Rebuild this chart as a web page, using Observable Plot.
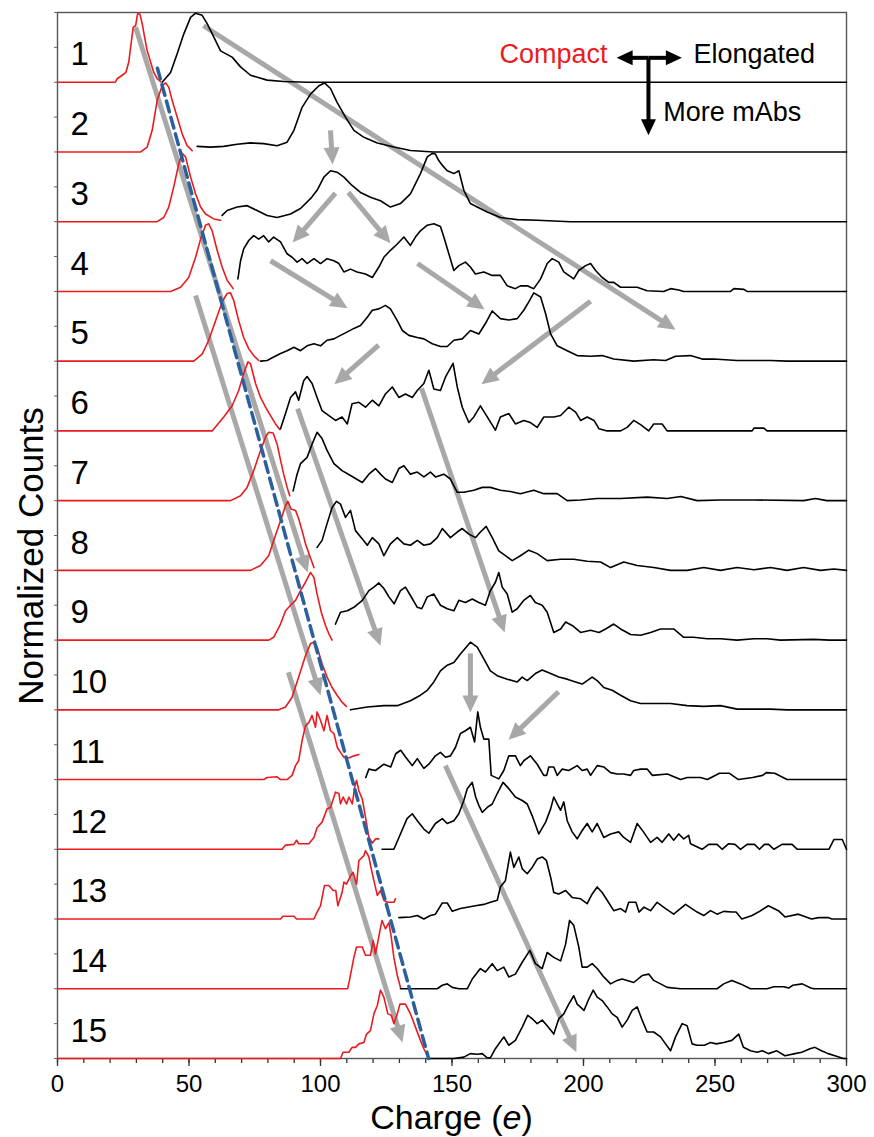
<!DOCTYPE html>
<html>
<head>
<meta charset="utf-8">
<script src="https://cdn.jsdelivr.net/npm/d3@7"></script>
<script src="https://cdn.jsdelivr.net/npm/@observablehq/plot@0.6"></script>
<style>
  html, body { margin: 0; padding: 0; background: #fff; }
  #chart svg { display: block; }
</style>
</head>
<body>
<div id="chart"></div>
<script>
// ---------- data: [charge, normalized height] per row ----------
const rowLabels = d3.range(1, 16);

const red1 = [[0,0],[22,0],[22.7,0.05],[24.6,0.1],[26,0.14],[27.1,0.29],[27.8,0.5],[28.8,0.79],[29.7,0.81],[30.5,0.99],[31.3,0.98],[32.2,0.84],[33.1,0.65],[34.1,0.45],[35.4,0.29],[36.6,0.14],[37.9,0.05],[39.2,0.01]];
const black1 = [[39.8,0],[43,0.14],[45.5,0.41],[48,0.69],[50.6,0.93],[52.5,0.99],[55,0.96],[56.9,0.84],[59.4,0.65],[62,0.45],[63.9,0.41],[66.4,0.36],[69.6,0.22],[73.4,0.1],[79.7,0.03],[86,0.01],[95,0],[300,0]];

const red2 = [[0,0],[31.6,0],[34.1,0.07],[36,0.31],[37.9,0.74],[39.8,0.95],[41.1,0.99],[42.3,0.93],[43.6,0.74],[45.5,0.5],[47.4,0.26],[49.3,0.09],[51.2,0.02]];
const black2 = [[53.1,0.08],[58.2,0.07],[63.2,0.08],[68.3,0.11],[73.4,0.13],[78.4,0.12],[83.5,0.09],[87.3,0.14],[89.9,0.31],[93,0.64],[96.2,0.83],[99.4,0.95],[101.5,0.99],[103.8,0.91],[106.3,0.71],[109.5,0.5],[112.7,0.31],[116.5,0.21],[121.6,0.13],[127.9,0.07],[134.2,0.02],[143,0],[300,0]];

const red3 = [[0,0],[37.9,0],[40.4,0.06],[42.3,0.21],[44.2,0.5],[46.1,0.83],[47.4,0.98],[48.7,0.93],[50.6,0.64],[52.5,0.4],[54.4,0.21],[56.3,0.11],[59.4,0.04],[62,0.02]];
const black3 = [[62.6,0.09],[64.5,0.16],[68.3,0.21],[72.1,0.23],[75.9,0.16],[79.7,0.09],[83.5,0.06],[88.6,0.11],[92.4,0.19],[96.2,0.33],[98.7,0.45],[101.3,0.64],[103.8,0.73],[106.3,0.71],[108.9,0.64],[112,0.52],[115.2,0.42],[119,0.35],[122.8,0.3],[126.6,0.21],[130.4,0.26],[134.2,0.4],[138,0.69],[140.6,0.93],[142.5,0.98],[143.7,0.97],[144.9,0.88],[146.5,0.8],[148.2,0.73],[150.7,0.69],[152.6,0.73],[154.5,0.45],[157,0.26],[159.6,0.21],[163.4,0.14],[168.4,0.06],[174.8,0.03],[182.4,0.02],[195,0],[300,0]];

const red4 = [[0,0],[43,0],[46.8,0.06],[49.9,0.2],[52.5,0.49],[54.4,0.75],[56.3,0.95],[57.5,0.97],[58.8,0.87],[60.7,0.59],[62.6,0.35],[64.5,0.16],[66.8,0.04]];
const black4 = [[68.6,0.18],[69.6,0.44],[70.8,0.61],[72.7,0.73],[74.6,0.8],[76.5,0.75],[78.4,0.8],[80.3,0.71],[82.2,0.78],[84.8,0.71],[87.3,0.54],[89.2,0.49],[91.1,0.42],[93,0.47],[94.9,0.4],[97.5,0.47],[100,0.4],[102.5,0.47],[105.1,0.44],[107,0.4],[108.9,0.28],[111.4,0.32],[113.9,0.28],[117.1,0.25],[119.7,0.2],[122.2,0.35],[124.1,0.49],[126.6,0.59],[129.2,0.68],[131.7,0.78],[134.2,0.66],[136.1,0.78],[138,0.87],[140.6,0.95],[143.1,0.97],[145.6,0.93],[146.9,0.78],[148.8,0.54],[150.7,0.3],[152.6,0.37],[155.1,0.42],[157,0.35],[158.9,0.25],[162.1,0.28],[165.3,0.23],[168.4,0.23],[171,0.08],[174.1,0.04],[176,0.08],[178.6,0.08],[181.1,0.04],[183.7,0.18],[186.2,0.4],[188.1,0.47],[190.6,0.42],[192.5,0.28],[194.4,0.23],[196.3,0.18],[198.2,0.3],[200.8,0.37],[202.7,0.4],[204.6,0.3],[207.1,0.2],[209.6,0.13],[211.5,0.13],[214.1,0.06],[220.4,0.06],[224.2,0.01],[230.5,0],[233.1,0.04],[236.2,0.02],[238.1,0],[255.9,0],[257.2,0.04],[261,0.03],[262.2,0],[300,0]];

const red5 = [[0,0],[51.8,0],[55,0.1],[57.5,0.3],[60.1,0.58],[62.6,0.85],[64.5,0.97],[65.8,0.98],[67,0.87],[68.9,0.58],[70.8,0.34],[72.7,0.18],[74.6,0.08],[76.5,0.01]];
const black5 = [[77.2,0],[79.7,0.01],[82.2,0.06],[84.8,0.11],[87.3,0.15],[89.9,0.2],[92.4,0.15],[94.9,0.22],[97.5,0.25],[100,0.22],[102.5,0.3],[105.1,0.32],[107.6,0.37],[110.2,0.42],[112.7,0.47],[115.2,0.51],[117.8,0.63],[119.7,0.73],[122.2,0.75],[124.7,0.8],[126.6,0.75],[129.2,0.58],[131.1,0.44],[133.6,0.37],[136.8,0.34],[139.3,0.32],[142.5,0.25],[145.6,0.21],[148.2,0.21],[150.7,0.3],[153.9,0.32],[157,0.44],[160.2,0.39],[162.7,0.54],[165.3,0.72],[168.4,0.61],[171.6,0.59],[174.8,0.61],[177.3,0.73],[179.2,0.85],[181.1,0.98],[183.7,0.92],[185.6,0.68],[187.5,0.39],[190,0.22],[193.8,0.15],[197.6,0.08],[202.7,0.07],[207.1,0.08],[211.5,0.03],[219.1,0],[226.7,0.02],[231.2,0.01],[235,0.07],[240.7,0.08],[245.1,0.03],[249.5,0.03],[258.4,0.01],[271.1,0.01],[277.4,0],[300,0]];

const red6 = [[0,0],[58.8,0],[63.2,0.2],[66.4,0.36],[68.9,0.58],[70.8,0.82],[72.4,0.99],[73.4,0.96],[75.3,0.68],[77.2,0.48],[79.1,0.34],[81,0.22],[82.9,0.1],[84.5,0.02]];
const black6 = [[84.8,0.03],[86.7,0.25],[88.6,0.48],[90.5,0.56],[91.7,0.44],[93.6,0.72],[94.9,0.78],[96.8,0.68],[98.7,0.48],[100.6,0.29],[103.2,0.22],[105.7,0.15],[108.2,0.2],[110.2,0.1],[112,0.39],[114.6,0.41],[117.1,0.34],[119.7,0.44],[122.2,0.36],[124.7,0.53],[127.3,0.63],[129.8,0.48],[132.3,0.53],[134.9,0.48],[136.8,0.58],[139.3,0.68],[141.2,0.87],[143.1,0.6],[145.6,0.58],[147.5,0.77],[150.4,0.97],[152,0.63],[153.9,0.34],[156.4,0.12],[158.3,0.2],[160.8,0.36],[163.4,0.2],[166.5,0.01],[168.4,0.2],[171.6,0.25],[174.1,0.1],[177.3,0.15],[179.8,0.12],[182.4,0.05],[184.9,0.2],[188.7,0.2],[191.3,0.22],[194.4,0.34],[197,0.27],[198.9,0.15],[201.4,0.2],[204,0.15],[205.9,0.03],[209,0],[214.1,0],[216.6,0.05],[219.1,0.15],[221.7,0.09],[224.8,0],[226.7,0.1],[229.9,0.1],[231.8,0],[264.1,0],[264.8,0.04],[268.6,0.04],[269.8,0],[300,0]];

const red7 = [[0,0],[65.8,0],[69.6,0.07],[72.1,0.19],[74.6,0.43],[77.2,0.72],[79.1,0.91],[80.3,0.98],[82,0.97],[83.5,0.81],[84.8,0.58],[86,0.38],[87.3,0.19],[88.3,0.07]];
const black7 = [[89.6,0.14],[91.1,0.38],[92.4,0.53],[94.9,0.62],[96.8,0.81],[98.7,0.98],[100.6,0.89],[102.5,0.72],[105.1,0.53],[108.2,0.43],[111.4,0.36],[115.9,0.26],[118.4,0.38],[120.9,0.46],[122.8,0.38],[124.7,0.31],[127.3,0.26],[129.8,0.46],[131.7,0.5],[134.2,0.38],[136.8,0.41],[139.3,0.34],[141.8,0.41],[143.7,0.34],[146.9,0.38],[149.4,0.31],[152,0.12],[154.5,0.12],[158.3,0.15],[161.5,0.19],[164.6,0.19],[168.4,0.15],[172.2,0.13],[176,0.1],[181.1,0.15],[184.9,0.1],[190,0.1],[193.8,0],[198.9,0.01],[205.2,0.03],[214.1,0.03],[224.2,0.05],[231.8,0.03],[237,0.06],[243.2,0],[252.1,0.01],[264.8,0.01],[283.7,0],[288.2,0.03],[292.5,0],[300,0]];

const red8 = [[0,0],[73.4,0],[77.2,0.07],[80.3,0.21],[82.2,0.43],[84.8,0.71],[86.7,0.93],[87.6,0.99],[88.8,0.88],[90.5,0.86],[91.7,0.74],[93,0.57],[94.3,0.38],[95.9,0.21],[97.5,0.04]];
const black8 = [[98.7,0.33],[100.6,0.43],[102.5,0.67],[104.4,0.9],[106.1,0.99],[107.6,0.95],[109.5,0.76],[111.4,0.86],[113.3,0.57],[115.9,0.45],[117.8,0.36],[119.7,0.47],[122.2,0.38],[124.1,0.21],[126.6,0.38],[129.2,0.47],[131.7,0.38],[134.2,0.36],[136.8,0.43],[139.3,0.36],[141.8,0.38],[144.4,0.47],[146.3,0.6],[149.4,0.47],[152,0.55],[153.9,0.6],[156.4,0.52],[159,0.47],[160.8,0.55],[163,0.63],[165.3,0.47],[167.8,0.28],[170.3,0.21],[172.9,0.14],[176,0.21],[179.2,0.29],[182.4,0.24],[186.2,0.14],[191.3,0.16],[196.3,0.16],[201.4,0.13],[206.5,0.12],[210.3,0.04],[215.3,0.12],[220.4,0.07],[226.7,0.04],[233.1,0],[239.4,0],[245.7,0.04],[252.1,0],[258.4,0.04],[264.8,0.01],[271.1,0.04],[277.4,0],[283.7,0.04],[290.1,0],[295.2,0.02],[300,0]];

const red9 = [[0,0],[80.3,0],[82.2,0.04],[84.8,0.23],[86.7,0.42],[88.6,0.5],[90.5,0.57],[92.4,0.71],[94.3,0.83],[96.2,0.97],[97.5,0.9],[98.7,0.66],[100.3,0.4],[101.9,0.21],[103.2,0.09],[104.4,0]];
const black9 = [[105.7,0.23],[107.6,0.4],[110.2,0.42],[112.7,0.47],[115.9,0.57],[118.4,0.71],[120.3,0.76],[122.2,0.82],[124.1,0.74],[126,0.62],[128,0.52],[130.4,0.71],[132.3,0.76],[134.2,0.64],[136.8,0.47],[138.5,0.45],[140.6,0.62],[143.1,0.66],[145.6,0.5],[148.2,0.45],[150.7,0.42],[152.6,0.57],[155.1,0.54],[157.7,0.59],[160.2,0.54],[162.7,0.5],[164.6,0.71],[166.5,0.83],[167.8,0.97],[169.1,0.76],[171,0.66],[172.9,0.4],[174.8,0.45],[177.3,0.57],[179.8,0.64],[181.7,0.54],[184.3,0.5],[186.2,0.4],[188.7,0.11],[191.3,0.16],[193.2,0.26],[195.7,0.21],[198.9,0.11],[202.7,0.14],[205.9,0.11],[208.4,0.16],[211.5,0.23],[214.1,0.16],[217.9,0.08],[221.7,0.07],[225.5,0.11],[229.3,0.16],[234.3,0.16],[238.1,0.04],[241.9,0.04],[247,0.02],[252.1,0.02],[258.4,0],[264.8,0.02],[269.8,0.02],[274.9,0],[287.6,0.01],[293.5,0],[300,0]];

const red10 = [[0,0],[84.1,0],[86.7,0.04],[89.2,0.18],[91.7,0.47],[94.3,0.78],[96.2,0.95],[97.5,0.97],[98.7,0.9],[100.6,0.66],[102.5,0.47],[104.4,0.32],[106.3,0.21],[108.2,0.11],[109.8,0.05]];
const black10 = [[111.4,0],[117.8,0.04],[124.1,0.06],[129.2,0.06],[134.2,0.13],[138,0.21],[140.6,0.28],[143.1,0.4],[145.6,0.56],[148.2,0.64],[150.7,0.68],[153.2,0.8],[157,0.97],[159.6,0.9],[162.1,0.73],[164.6,0.56],[167.2,0.49],[171,0.44],[174.8,0.4],[176.7,0.47],[178.6,0.42],[181.7,0.52],[184.3,0.57],[187.5,0.52],[190.6,0.47],[193.8,0.44],[197,0.4],[199.5,0.37],[201.4,0.42],[203.3,0.47],[205.2,0.42],[207.7,0.32],[210.9,0.28],[214.1,0.21],[217.9,0.13],[221.7,0.09],[226.7,0.09],[233.1,0.09],[239.4,0.06],[245.7,0.05],[252.1,0.06],[258.4,0.01],[264.8,0.01],[271.1,0.01],[277.4,0],[300,0]];

const red11 = [[0,0],[78.4,0],[79.7,0.03],[83.5,0.04],[84.8,0],[87.3,0],[89.2,0.06],[90.5,0.2],[91.7,0.27],[93,0.56],[94.3,0.77],[95.6,0.82],[96.8,0.92],[98.1,0.75],[98.7,0.97],[100,0.85],[101.3,0.7],[102.5,0.92],[103.8,0.7],[105.1,0.66],[106.4,0.46],[107.6,0.39],[108.9,0.32],[110.8,0.31],[112.7,0.34],[114.6,0.36]];
const black11 = [[117.2,0.03],[118.4,0.15],[120.9,0.13],[124.1,0.22],[126.7,0.18],[128.6,0.37],[130.5,0.42],[132.4,0.32],[134.9,0.2],[136.8,0.3],[139.3,0.16],[141.2,0.22],[143.7,0.34],[145.6,0.39],[147.5,0.32],[149.4,0.34],[151.3,0.46],[153.2,0.66],[155.1,0.7],[157,0.75],[158.6,0.54],[159.8,0.97],[160.8,0.75],[162.1,0.58],[164,0.58],[164.9,0.06],[167.8,0.01],[169.7,0.13],[171.6,0.34],[174.1,0.34],[176,0.2],[177.3,0.27],[179.8,0.34],[182.4,0.22],[184.9,0.06],[186,0.06],[186.8,0.18],[188.7,0.18],[190,0.06],[191.9,0.15],[194.4,0.13],[197.6,0.2],[199.5,0.13],[201.4,0.15],[202.7,0.06],[205.2,0.2],[207.8,0.18],[210.3,0.1],[212.8,0.08],[215.3,0.08],[217.9,0.06],[219.1,0.13],[221.7,0.15],[224.2,0.15],[226.2,0.06],[231.9,0.08],[236.9,0],[239.5,0.03],[244.5,0.03],[247.1,0],[251.7,0.09],[255.5,0.09],[258.9,0],[264.3,0.03],[268.1,0.06],[269.5,0.1],[272.7,0.09],[277.4,0],[300,0]];

const red12 = [[0,0],[85.4,0],[86.7,0.06],[89.9,0.07],[90.9,0.13],[91.7,0.08],[95.6,0.08],[97.5,0.17],[98.7,0.31],[100.6,0.39],[102.5,0.58],[103.8,0.6],[105.1,0.75],[105.7,0.82],[107,0.8],[107.6,0.65],[108.6,0.75],[109.9,0.65],[110.8,0.75],[112.1,0.65],[113,0.89],[113.7,0.99],[114.6,0.84],[115.9,0.72],[117.1,0.46],[118.4,0.17],[119.7,0.09],[121,0.15],[122.2,0.15]];
const black12 = [[123.4,0],[127.9,0],[130.4,0.22],[132.9,0.44],[134.9,0.51],[136.8,0.41],[139.3,0.29],[141.2,0.23],[143.7,0.37],[146.3,0.44],[148.2,0.37],[150.7,0.41],[152.6,0.51],[154.5,0.7],[155.8,0.87],[157.7,0.96],[159,0.75],[160.2,0.63],[161.5,0.53],[163.4,0.6],[165.3,0.65],[167.2,0.8],[169.4,0.96],[171.6,0.87],[174.1,0.75],[176.7,0.7],[178.6,0.65],[180.5,0.48],[183,0.22],[185.6,0.39],[187.5,0.58],[188.7,0.75],[190,0.65],[191.3,0.56],[192.5,0.68],[193.8,0.41],[195.7,0.25],[197.6,0.15],[199.5,0.27],[201.4,0.37],[203.3,0.25],[205.2,0.37],[207.7,0.17],[210.3,0.22],[213.4,0.25],[215.3,0.17],[217.9,0.1],[220.4,0.37],[222.8,0.25],[225.5,0.1],[228,0.17],[229.9,0.1],[232.4,0.22],[234.3,0.13],[236.2,0.22],[238.1,0.15],[240,0.2],[240.7,0.08],[245.1,0],[247.6,0.07],[250.8,0.07],[252.7,0],[255.2,0.08],[257.6,0.07],[259.7,0],[262.2,0.07],[265,0.07],[266.9,0],[268.8,0.07],[270.4,0.07],[272.4,0],[275.5,0.07],[279.3,0.07],[281.3,0],[293.3,0],[295.2,0.14],[298.4,0.14],[300,0]];

const red13 = [[0,0],[84.8,0],[85.7,0.04],[89.9,0.04],[90.9,0],[97.5,0],[98.7,0.1],[100,0.19],[101.5,0.48],[103.2,0.48],[104.8,0.41],[105.8,0.41],[106.6,0.19],[108.2,0.38],[108.9,0.53],[109.9,0.5],[111.4,0.62],[112.4,0.67],[113.7,0.5],[114.6,0.84],[116.5,0.91],[117.1,0.98],[118.4,0.89],[119.3,0.72],[120.3,0.55],[121.6,0.34],[122.8,0.41],[124.1,0.27],[125.4,0.24],[127.9,0.24],[128.5,0.29]];
const black13 = [[129.8,0.02],[134.2,0.03],[136.8,0.05],[139.3,0],[141.8,0.05],[143.7,0.07],[146.3,0.23],[148.2,0.23],[150.1,0.11],[153.2,0.15],[155.8,0.17],[158.9,0.19],[162.1,0.21],[164.6,0.24],[167.2,0.27],[168.4,0.46],[170.3,0.55],[172.2,0.96],[173.5,0.74],[175.4,0.89],[176.7,0.72],[178.6,0.65],[180.5,0.74],[182.4,0.86],[184.3,0.89],[185.9,0.84],[187.5,0.6],[188.7,0.38],[190.6,0.36],[193.2,0.41],[195.7,0.31],[198.9,0.29],[201.4,0.22],[203.3,0.36],[205.2,0.46],[207.1,0.38],[209,0.27],[211.5,0.12],[214.1,0.15],[216,0.1],[217.2,0.24],[219.9,0.24],[221.1,0.1],[223,0.17],[225.5,0.12],[228,0.24],[231.2,0.15],[234.3,0.07],[238.8,0.21],[243.2,0.1],[245.7,0.05],[248.3,0.12],[250.8,0.07],[253.3,0.11],[256.4,0.1],[258,0.1],[260.2,0],[264.1,0.05],[266.5,0.1],[270.3,0.19],[274.1,0.12],[276.6,0.03],[281.7,0.07],[286.7,0],[289.4,0.02],[293.2,0.02],[294.4,0],[300,0]];

const red14 = [[0,0],[110.3,0],[111,0.12],[112.7,0.45],[113.7,0.6],[115.9,0.6],[117.1,0.48],[119,0.48],[120,0.69],[120.9,0.5],[122.6,0.83],[123.4,0.98],[124.7,0.86],[126,0.95],[126.9,0.74],[127.9,0.45],[129.2,0.19],[130.4,0.02]];
const black14 = [[130.4,0],[144.4,0],[146.3,0.05],[148.2,0.07],[150.1,0.02],[152.6,0],[155.8,0],[157.7,0.14],[160.8,0.29],[162.7,0.24],[165.3,0.36],[167.2,0.26],[169.7,0.31],[171.6,0.17],[174.1,0.21],[176.7,0.38],[179.6,0.55],[181.7,0.36],[184.3,0.29],[186.2,0.52],[188.7,0.45],[191.3,0.4],[193.2,0.64],[194.7,0.98],[196.3,0.91],[198.2,0.6],[199.5,0.31],[201.4,0.31],[203.3,0.36],[205.2,0.29],[207.7,0.17],[210.3,0.07],[212.8,0.12],[214.7,0.14],[216.6,0.12],[219.1,0.09],[222.3,0.19],[224.8,0.21],[226.7,0.12],[229.3,0.07],[231.8,0.02],[236.9,0],[250.8,0],[253.3,0.07],[256.4,0.12],[259.7,0.07],[263.5,0],[269.8,0],[272.4,0.03],[276.2,0.03],[278,0.01],[279.6,0.05],[283.2,0.07],[286.4,0.01],[287.6,0],[300,0]];

const red15 = [[0,0],[107.6,0],[108.6,0.09],[110.8,0.09],[112,0.16],[113.3,0.16],[114.6,0.21],[116.5,0.23],[117.5,0.35],[119,0.4],[120.3,0.64],[121.6,0.76],[122.8,0.98],[124.1,0.88],[125.6,0.64],[126.9,0.62],[127.9,0.5],[129.2,0.64],[130.2,0.78],[132.3,0.78],[134.2,0.64],[136.1,0.45],[138,0.26],[139.3,0.14],[140.6,0.04]];
const black15 = [[140.6,0],[150.7,0],[154.5,0.02],[157,0.07],[159.6,0.06],[161.5,0.07],[163.4,0.01],[164.6,0.01],[166.5,0.14],[169.7,0.31],[171.6,0.19],[174.1,0.26],[176.7,0.45],[178.8,0.62],[180.5,0.57],[182.4,0.5],[184.3,0.55],[186.2,0.47],[188.7,0.35],[190.6,0.57],[192.5,0.64],[194.4,0.78],[196.3,0.9],[197.6,0.78],[200.2,0.69],[202.1,0.86],[203.7,0.98],[205.2,0.88],[207.1,0.83],[209,0.74],[210.9,0.64],[212.8,0.59],[214.7,0.45],[216.6,0.55],[218.5,0.69],[220.4,0.74],[222.3,0.55],[224.2,0.38],[226.7,0.38],[229.3,0.31],[231.2,0.21],[233.1,0.11],[235,0.31],[237.5,0.5],[239.4,0.47],[241.3,0.21],[243.2,0.19],[246,0.19],[248.3,0.23],[250.5,0.21],[253.3,0.23],[256.4,0.26],[259,0.35],[260.8,0.16],[263.5,0.11],[266,0.09],[268,0.11],[270.3,0.07],[273.5,0.11],[276.6,0.04],[280.4,0.07],[283,0.09],[286.1,0.14],[288,0.16],[290.5,0.11],[293,0.07],[295.6,0.04],[298.8,0],[300,0]];

const redTraces = [red1, red2, red3, red4, red5, red6, red7, red8, red9, red10, red11, red12, red13, red14, red15];
const blackTraces = [black1, black2, black3, black4, black5, black6, black7, black8, black9, black10, black11, black12, black13, black14, black15];

// annotations in data units: [x1, y1, x2, y2] (y in stacked row units)
const grayArrows = [
  [55.5, 14.81, 235.0, 10.45],
  [103.8, 13.31, 104.6, 12.82],
  [105.7, 12.41, 89.4, 11.70],
  [110.6, 12.42, 126.6, 11.69],
  [81.0, 11.44, 110.3, 10.76],
  [136.9, 11.40, 162.4, 10.74],
  [122.1, 10.23, 105.3, 9.67],
  [202.7, 10.86, 161.2, 9.67],
  [29.7, 14.79, 95.1, 6.97],
  [52.5, 10.94, 100.0, 5.21],
  [91.3, 9.32, 122.8, 5.92],
  [138.4, 9.61, 170.0, 6.11],
  [157.0, 5.81, 157.0, 4.96],
  [190.5, 5.26, 171.5, 4.57],
  [87.8, 5.54, 131.2, 0.23],
  [147.5, 4.20, 197.3, 0.09]
];
const blueDashed = [[38.0, 14.2], [141.1, 0]];
const legendArrows = [
  [224.7, 14.35, 212.6, 14.35],
  [224.7, 14.35, 237.4, 14.35],
  [224.7, 14.35, 224.7, 13.24]
];
const legendLeft = [{label: "Compact", x: 209.1, y: 14.28}];
const legendRight = [
  {label: "Elongated", x: 241.8, y: 14.28},
  {label: "More mAbs", x: 230.3, y: 13.45}
];
const xTicksMajor = d3.range(0, 301, 50);
const xTicksMinor = d3.range(0, 301, 10);
const yTicks = d3.range(0, 15.01, 0.5);

// ---------- build table ----------
const RED = "#ea1b1f";
const rows = [];
redTraces.forEach((pts, i) => pts.forEach(([x, h]) => rows.push({row: i + 1, kind: "red", x, y: 14 - i + h})));
blackTraces.forEach((pts, i) => pts.forEach(([x, h]) => rows.push({row: i + 1, kind: "black", x, y: 14 - i + h})));
const redRows = rows.filter(d => d.kind === "red");
const blackRows = rows.filter(d => d.kind === "black");

const chart = Plot.plot({
  width: 874,
  height: 1137,
  marginLeft: 57,
  marginRight: 28,
  marginTop: 12,
  marginBottom: 79,
  x: {domain: [0, 300]},
  y: {domain: [0, 15]},
  style: {fontFamily: "'Liberation Sans', Arial, Helvetica, sans-serif", fontSize: "24px", background: "#fff", color: "#000"},
  marks: [
    Plot.axisX({ticks: xTicksMinor, tickSize: 5, tickFormat: () => "", label: null, stroke: "#333", strokeWidth: 1.3}),
    Plot.axisX({ticks: xTicksMajor, tickSize: 8, tickPadding: 8, fontSize: 24, label: null, stroke: "#333", fill: "#000", strokeWidth: 1.3}),
    Plot.axisY({ticks: yTicks, tickSize: 3, tickFormat: () => "", label: null, stroke: "#666"}),
    Plot.frame({stroke: "#555", strokeWidth: 1.4}),
    Plot.link(grayArrows, {x1: d => d[0], y1: d => d[1], x2: d => d[2], y2: d => d[3], stroke: "#a8a8a8", strokeWidth: 5}),
    Plot.line(redRows, {x: "x", y: "y", z: "row", stroke: RED, strokeWidth: 1.6}),
    Plot.line(blackRows, {x: "x", y: "y", z: "row", stroke: "#000", strokeWidth: 1.6}),
    Plot.line(blueDashed, {x: d => d[0], y: d => d[1], stroke: "#2a609e", strokeWidth: 3.5, strokeDasharray: "11,6"}),
    Plot.text(rowLabels, {x: 0, y: d => 15 - d + 0.24, text: d => String(d), textAnchor: "start", lineAnchor: "bottom", dx: 13, fontSize: 33, fill: "#000"}),
    Plot.text(legendLeft, {x: "x", y: "y", text: "label", textAnchor: "end", lineAnchor: "bottom", fill: RED, fontSize: 27}),
    Plot.text(legendRight, {x: "x", y: "y", text: "label", textAnchor: "start", lineAnchor: "bottom", fill: "#000", fontSize: 27}),
    Plot.link(legendArrows, {x1: d => d[0], y1: d => d[1], x2: d => d[2], y2: d => d[3], stroke: "#000", strokeWidth: 4})
  ]
});

// ---------- filled arrowheads on link marks ----------
(function addHeads(svg) {
  const root = d3.select(svg);
  const defs = root.insert("defs", ":first-child");
  let n = 0;
  root.selectAll('g[aria-label="link"]').each(function () {
    const g = d3.select(this);
    const color = g.attr("stroke") || "#000";
    const sw = +g.attr("stroke-width") || 1;
    const L = sw >= 4.5 ? 17 : 16, H = sw >= 4.5 ? 8 : 7.5, S = 9;
    const id = "filled-head-" + (n++);
    defs.append("marker")
      .attr("id", id)
      .attr("markerUnits", "userSpaceOnUse")
      .attr("viewBox", `${S - L - 1} ${-H - 1} ${L + 2} ${2 * H + 2}`)
      .attr("markerWidth", L + 2)
      .attr("markerHeight", 2 * H + 2)
      .attr("refX", 0).attr("refY", 0)
      .attr("orient", "auto")
      .append("path")
      .attr("d", `M${S - L},${-H}L${S},0L${S - L},${H}Z`)
      .attr("fill", color).attr("stroke", "none");
    g.selectAll("path").each(function () {
      const p = d3.select(this);
      const nums = (p.attr("d").match(/-?\d*\.?\d+(?:e[-+]?\d+)?/gi) || []).map(Number);
      if (nums.length !== 4) return;
      const [x1, y1, x2, y2] = nums;
      const len = Math.hypot(x2 - x1, y2 - y1);
      const k = Math.max(0, (len - S) / len);
      p.attr("d", `M${x1},${y1}L${x1 + (x2 - x1) * k},${y1 + (y2 - y1) * k}`)
       .attr("marker-end", `url(#${id})`);
    });
  });

  // axis titles
  const xs = svg.scale("x"), ys = svg.scale("y");
  const xt = root.append("text")
    .attr("x", xs.apply(150)).attr("y", ys.apply(0) + 71)
    .attr("text-anchor", "middle").attr("font-size", 34).attr("fill", "#000");
  xt.append("tspan").text("Charge (");
  xt.append("tspan").attr("font-style", "italic").text("e");
  xt.append("tspan").text(")");
  root.append("text")
    .attr("transform", `translate(43,${ys.apply(7.5) + 21}) rotate(-90)`)
    .attr("text-anchor", "middle").attr("font-size", 35).attr("fill", "#000")
    .text("Normalized Counts");
})(chart);

document.getElementById("chart").appendChild(chart);
</script>
</body>
</html>
